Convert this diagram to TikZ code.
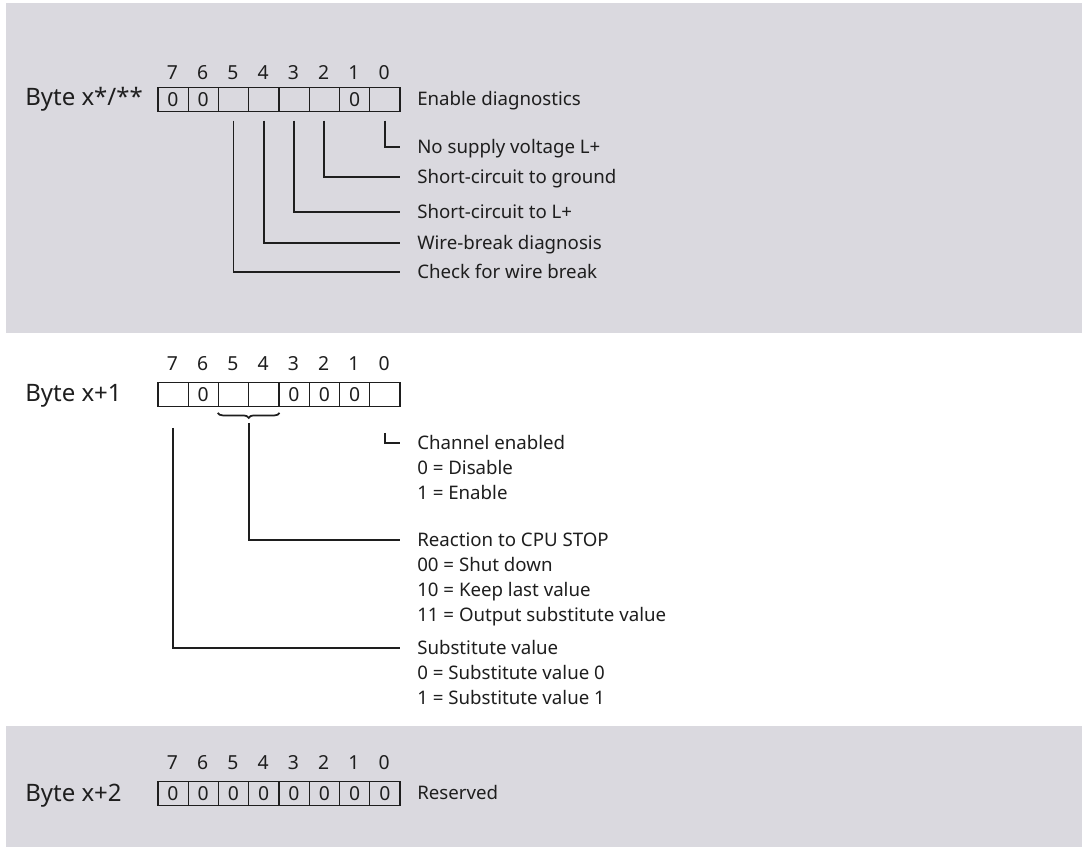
\documentclass[tikz,border=0pt]{standalone}
\usepackage{fontspec}
\setmainfont{Noto Sans}
\usetikzlibrary{decorations.pathreplacing}
\definecolor{panel}{RGB}{218,217,223}
\definecolor{ink}{RGB}{30,30,30}
\begin{document}
\begin{tikzpicture}[x=0.75pt,y=-0.75pt,
  cell/.style={draw=ink, line width=0.9pt, minimum width=22.69pt, minimum height=18pt,
    inner sep=0pt, anchor=north west, text=ink, text height=10.4pt, text depth=0pt,
    font=\fontsize{14.5}{15}\selectfont},
  bitnum/.style={inner sep=0pt, text=ink, text height=10.4pt, text depth=0pt,
    font=\fontsize{14.5}{15}\selectfont},
  lab/.style={anchor=west, inner sep=0pt, text=ink, text height=10pt, text depth=0pt,
    font=\fontsize{14}{16}\selectfont},
  bytelab/.style={anchor=west, inner sep=0pt, text=ink, text height=13pt, text depth=0pt,
    font=\fontsize{18}{20}\selectfont},
  lead/.style={draw=ink, line width=1.3pt}]
\useasboundingbox (0,0) rectangle (1082,847);
\fill[white] (0,0) rectangle (1082,847);
\fill[panel] (6,3) rectangle (1082,333);
\fill[panel] (6,726) rectangle (1082,847);

% ---- Byte x*/** ----
\node[bytelab] (byte0) at (25,97) {Byte x*/**};
\foreach \b/\v [count=\i from 0] in {7/0,6/0,5/{},4/{},3/{},2/{},1/0,0/{}} {
  \node[cell] (a\b) at (157.3+30.25*\i,86.7) {\v};
  \node[bitnum] (an\b) at (172.4+30.25*\i,73) {\b};
}
\node[lab] (e0) at (417,98.7) {Enable diagnostics};
\node[lab] (l0) at (417,146.7) {No supply voltage L+};
\node[lab] (l2) at (417,177.3) {Short-circuit to ground};
\node[lab] (l3) at (417,212) {Short-circuit to L+};
\node[lab] (l4) at (417,242.7) {Wire-break diagnosis};
\node[lab] (l5) at (417,271.7) {Check for wire break};
\draw[lead] ([yshift=-6.45pt]a0.south) |- ([xshift=-12.75pt]l0.west);
\draw[lead] ([yshift=-6.45pt]a2.south) |- ([xshift=-12.75pt]l2.west);
\draw[lead] ([yshift=-6.45pt]a3.south) |- ([xshift=-12.75pt]l3.west);
\draw[lead] ([yshift=-6.45pt]a4.south) |- ([xshift=-12.75pt]l4.west);
\draw[lead] ([yshift=-6.45pt]a5.south) |- ([xshift=-12.75pt]l5.west);

% ---- Byte x+1 ----
\node[bytelab] (byte1) at (25,393) {Byte x+1};
\foreach \b/\v [count=\i from 0] in {7/{},6/0,5/{},4/{},3/0,2/0,1/0,0/{}} {
  \node[cell] (b\b) at (157.3+30.25*\i,381.7) {\v};
  \node[bitnum] (bn\b) at (172.4+30.25*\i,364) {\b};
}
\node[lab] (c0) at (417,443) {Channel enabled};
\node[lab] (c1) at (417,468) {0 = Disable};
\node[lab] (c2) at (417,493) {1 = Enable};
\node[lab] (r0) at (417,540) {Reaction to CPU STOP};
\node[lab] (r1) at (417,565) {00 = Shut down};
\node[lab] (r2) at (417,590) {10 = Keep last value};
\node[lab] (r3) at (417,615) {11 = Output substitute value};
\node[lab] (s0) at (417,648) {Substitute value};
\node[lab] (s1) at (417,673) {0 = Substitute value 0};
\node[lab] (s2) at (417,698) {1 = Substitute value 1};
\draw[lead] ([yshift=-19.5pt]b0.south) |- ([xshift=-12.75pt]c0.west);
\draw[lead, decorate, decoration={brace, mirror, amplitude=3.75pt}]
  ([yshift=-4.5pt]b5.south west) -- ([yshift=-4.5pt]b4.south east);
\draw[lead] ([yshift=-12pt]b5.south east) |- ([xshift=-12.75pt]r0.west);
\draw[lead] ([yshift=-15.75pt]b7.south) |- ([xshift=-12.75pt]s0.west);

% ---- Byte x+2 ----
\node[bytelab] (byte2) at (25,793) {Byte x+2};
\foreach \b [count=\i from 0] in {7,6,5,4,3,2,1,0} {
  \node[cell] (d\b) at (157.3+30.25*\i,781) {0};
  \node[bitnum] (dn\b) at (172.4+30.25*\i,763) {\b};
}
\node[lab] (res) at (417,793) {Reserved};
\end{tikzpicture}
\end{document}
